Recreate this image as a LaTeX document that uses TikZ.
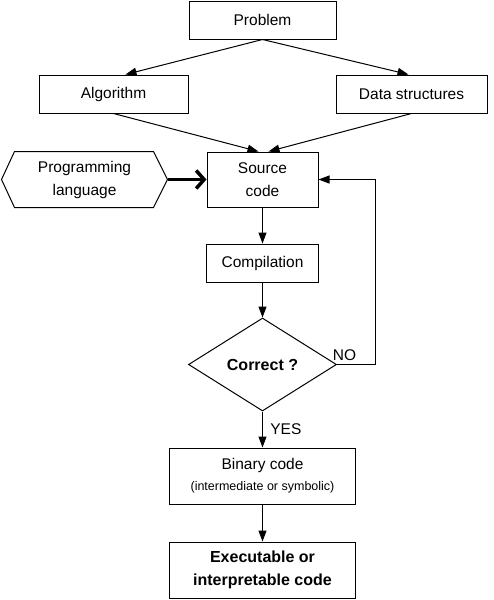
\documentclass[tikz,border=0pt]{standalone}
\usepackage{fontspec}
\setmainfont{Liberation Sans}
\usetikzlibrary{arrows.meta, shapes.geometric}

\begin{document}
\begin{tikzpicture}[x=1pt, y=-1pt, line width=1pt,
    >={Triangle[length=11pt, width=8pt]},
    every node/.style={font=\fontsize{15.5}{23}\selectfont},
    box/.style={draw, align=center, inner sep=0pt, minimum height=38pt},
    bold/.style={font=\fontsize{16}{23}\selectfont\bfseries}]
    \useasboundingbox (0,0) rectangle (493,600);

    \node[box, minimum width=147pt](prob) at (262.5,20) {Problem};
    \node[box, minimum width=149pt](algo) at (113.5,94) {Algorithm};
    \node[box, minimum width=151pt](data) at (411.5,94) {Data structures};
    \node[box, minimum width=111pt, minimum height=55pt](src) at (262.5,179.5) {Source\\code};
    \node[minimum width=165pt, minimum height=55pt, inner sep=0pt, align=center](lang) at (84.5,179.5) {Programming\\language};
    \node[box, minimum width=112pt](comp) at (262.5,263) {Compilation};
    \node[draw, diamond, bold, minimum width=148pt, minimum height=93pt, inner sep=0pt](chk) at (262.5,364.5) {Correct ?};
    \node[box, minimum width=186pt, minimum height=56pt](bin) at (262.5,476) {Binary code\\[-2pt]\fontsize{12.5}{14}\selectfont(intermediate or symbolic)};
    \node[box, bold, minimum width=186pt, minimum height=56pt](exe) at (262.5,570) {Executable or\\interpretable code};

    \draw (lang.west) -- ([xshift=13pt]lang.north west) -- ([xshift=-14pt]lang.north east) -- (lang.east)
          -- ([xshift=-14pt]lang.south east) -- ([xshift=13pt]lang.south west) -- cycle;

    \path[->] (prob.south) edge ([xshift=12pt]algo.north)
              (prob.south) edge ([xshift=-3pt]data.north)
              (algo.south) edge ([xshift=-4pt]src.north)
              (data.south) edge ([xshift=6pt]src.north)
              (src) edge (comp)
              (comp) edge (chk)
              (chk) edge node[right, xshift=4pt] {YES} (bin)
              (bin) edge (exe);
    \draw[->] (chk.east) -- node[above, pos=0.2] {NO} ++(38,0) |- (src.east);
    \draw[line width=3.5pt, -{Straight Barb[length=8pt, width=18pt]}] (lang) -- (src);
  \end{tikzpicture}
\end{document}
